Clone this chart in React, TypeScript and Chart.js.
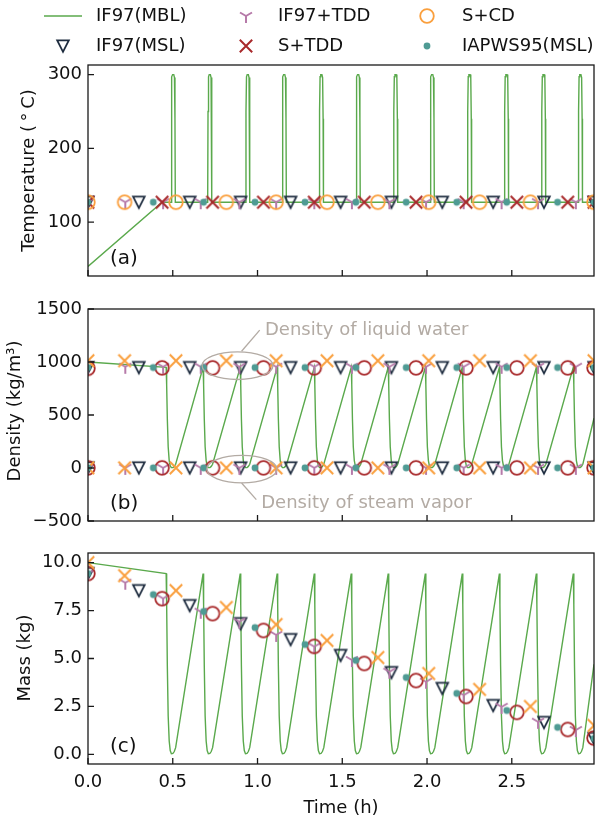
import React, { useEffect, useRef } from 'react';
import { Chart, registerables } from 'chart.js';
Chart.register(...registerables);

// ---------- axes ----------
const X_MAX = 2.985;
const xTicks = [0, 0.5, 1.0, 1.5, 2.0, 2.5];
const tempTicks = [100, 200, 300];
const densTicks = [-500, 0, 500, 1000, 1500];
const massTicks = [0, 2.5, 5, 7.5, 10];

// ---------- marker times (h) ----------
const tMSL = [0, 0.30, 0.60, 0.90, 1.195, 1.49, 1.79, 2.09, 2.39, 2.69, 2.985];
const tTDD = [0, 0.22, 0.443, 0.665, 0.893, 1.11, 1.335, 1.557, 1.778, 1.994, 2.216, 2.44, 2.655, 2.878];
const tSTDD = [0, 0.437, 0.735, 1.035, 1.335, 1.63, 1.935, 2.23, 2.53, 2.83, 2.985];
const tSCD = [0, 0.216, 0.519, 0.816, 1.11, 1.41, 1.71, 2.01, 2.31, 2.61, 2.985];
const tIAPWS = [0, 0.385, 0.682, 0.985, 1.28, 1.58, 1.877, 2.175, 2.47, 2.77, 2.985];

// ---------- temperature (°C) ----------
const tempMSL = [127, 127, 127, 127, 127, 127, 127, 127, 127, 127, 127];
const tempTDD = [127, 127, 127, 127, 127, 127, 127, 127, 127, 127, 127, 127, 127, 127];
const tempSTDD = [127, 127, 127, 127, 127, 127, 127, 127, 127, 127, 127];
const tempSCD = [127, 127, 127, 127, 127, 127, 127, 127, 127, 127, 127];
const tempIAPWS = [127, 127, 127, 127, 127, 127, 127, 127, 127, 127, 127];

// ---------- density (kg/m3): liquid and vapor ----------
const densLiqMSL = [948, 948, 948, 948, 948, 948, 948, 948, 948, 948, 948];
const densVapMSL = [1.5, 1.5, 1.5, 1.5, 1.5, 1.5, 1.5, 1.5, 1.5, 1.5, 1.5];
const densLiqTDD = [955, 955, 955, 955, 955, 955, 955, 955, 955, 955, 955, 955, 955, 955];
const densVapTDD = [1.5, 1.5, 1.5, 1.5, 1.5, 1.5, 1.5, 1.5, 1.5, 1.5, 1.5, 1.5, 1.5, 1.5];
const densLiqSTDD = [940, 945, 945, 945, 945, 945, 945, 945, 945, 945, 945];
const densVapSTDD = [1.5, 1.5, 1.5, 1.5, 1.5, 1.5, 1.5, 1.5, 1.5, 1.5, 1.5];
const densLiqSCD = [1012, 1012, 1012, 1012, 1012, 1012, 1012, 1012, 1012, 1012, 1012];
const densVapSCD = [1.5, 1.5, 1.5, 1.5, 1.5, 1.5, 1.5, 1.5, 1.5, 1.5, 1.5];
const densLiqIAPWS = [948, 948, 948, 948, 948, 948, 948, 948, 948, 948, 948];
const densVapIAPWS = [1.5, 1.5, 1.5, 1.5, 1.5, 1.5, 1.5, 1.5, 1.5, 1.5, 1.5];

// ---------- mass (kg) ----------
const massMSL = [9.43, 8.54, 7.76, 6.82, 5.99, 5.16, 4.27, 3.44, 2.55, 1.67, 0.83];
const massTDD = [9.43, 8.95, 8.13, 7.44, 6.92, 6.23, 5.62, 4.92, 4.31, 3.79, 3.09, 2.48, 1.70, 1.27];
const massSTDD = [9.43, 8.12, 7.34, 6.46, 5.63, 4.74, 3.85, 3.02, 2.19, 1.30, 0.85];
const massSCD = [10.0, 9.32, 8.54, 7.66, 6.77, 5.94, 5.05, 4.22, 3.39, 2.50, 1.51];
const massIAPWS = [9.43, 8.33, 7.45, 6.61, 5.73, 4.90, 4.01, 3.18, 2.29, 1.41, 0.83];

// ---------- IF97(MBL) line, read key points ----------
const mblStartT = 0;
const mblMassStart = 10.0;
const mblDensStart = 1000;
const mblTempStart = [40, 127];
const mblTempStartT = [0, 0.437];
const cyclePeakT = [0.461, 0.679, 0.898, 1.116, 1.335, 1.553, 1.771, 1.990, 2.208, 2.427, 2.645, 2.863];
const dropDt = [0, 0.003, 0.007, 0.012, 0.018, 0.024, 0.031, 0.040, 0.048, 0.056];
const massDropVal = [9.43, 7.8, 4.6, 2.0, 0.7, 0.2, 0.04, 0.05, 0.15, 0.35];
const densDropVal = [950, 786, 463, 201, 70, 20, 4, 5, 15, 35];
const mblMassEnd = 4.7;
const mblDensEnd = 470;
const spikeT = [0.490, 0.706, 0.930, 1.145, 1.364, 1.581, 1.802, 2.018, 2.238, 2.456, 2.675, 2.892];
const spikeDt = [0, 0.002, 0.005, 0.009, 0.016, 0.020, 0.023, 0.025];
const spikeVal = [127, 250, 297, 300, 300, 296, 240, 127];
const mblTempEnd = 127;

// ---------- styles ----------
const GREEN = '#5aa94c';
const NAVY = '#1e2c3f';
const PURPLE = '#b67aa9';
const RED = '#a8292b';
const ORANGE = '#fa9f3d';
const TEAL = '#4f9b94';
const ANNOT = '#b3aba4';
const INK = '#111111';
const FONT = '"DejaVu Sans", sans-serif';

type P = { x: number; y: number };
const pts = (xs: number[], ys: number[]): P[] => xs.map((x, i) => ({ x, y: ys[i] }));

function sawLine(startVal: number, dropVal: number[], endVal: number): P[] {
  const out: P[] = [{ x: mblStartT, y: startVal }];
  cyclePeakT.forEach((tp) => dropDt.forEach((dt, j) => out.push({ x: tp + dt, y: dropVal[j] })));
  out.push({ x: X_MAX, y: endVal });
  return out;
}
function tempLine(): P[] {
  const out: P[] = pts(mblTempStartT, mblTempStart);
  spikeT.forEach((ts) => spikeDt.forEach((dt, j) => out.push({ x: ts + dt, y: spikeVal[j] })));
  out.push({ x: X_MAX, y: mblTempEnd });
  return out;
}

function mk(draw: (c: CanvasRenderingContext2D) => void): HTMLCanvasElement {
  const cv = document.createElement('canvas');
  cv.width = 20;
  cv.height = 20;
  const c = cv.getContext('2d')!;
  c.translate(10, 10);
  draw(c);
  return cv;
}
function makeMarkers() {
  const tri = mk((c) => {
    c.strokeStyle = NAVY; c.lineWidth = 1.8; c.lineJoin = 'miter';
    c.beginPath(); c.moveTo(-5.8, -5.6); c.lineTo(5.8, -5.6); c.lineTo(0, 5.8); c.closePath(); c.stroke();
  });
  const yy = mk((c) => {
    c.strokeStyle = PURPLE; c.lineWidth = 2;
    c.beginPath();
    c.moveTo(0, 0); c.lineTo(0, 7);
    c.moveTo(0, 0); c.lineTo(-6.0, -3.5);
    c.moveTo(0, 0); c.lineTo(6.0, -3.5);
    c.stroke();
  });
  const cross = (col: string) => mk((c) => {
    c.strokeStyle = col; c.lineWidth = 2;
    c.beginPath(); c.moveTo(-6.2, -6.2); c.lineTo(6.2, 6.2); c.moveTo(-6.2, 6.2); c.lineTo(6.2, -6.2); c.stroke();
  });
  const circ = (col: string) => mk((c) => {
    c.strokeStyle = col; c.lineWidth = 1.8;
    c.beginPath(); c.arc(0, 0, 6.8, 0, Math.PI * 2); c.stroke();
  });
  const dot = mk((c) => {
    c.fillStyle = TEAL; c.beginPath(); c.arc(0, 0, 3.4, 0, Math.PI * 2); c.fill();
  });
  return { tri, yy, xRed: cross(RED), xOrange: cross(ORANGE), oRed: circ(RED), oOrange: circ(ORANGE), dot };
}

const mds = (data: P[], img: HTMLCanvasElement) => ({
  data, showLine: false, pointStyle: img, pointRadius: 7, pointHoverRadius: 7, borderWidth: 0, clip: 0,
});
const lds = (data: P[]) => ({
  data, showLine: true, borderColor: GREEN, borderWidth: 1.4, pointRadius: 0, pointHoverRadius: 0,
  tension: 0, clip: 0, fill: false,
});

function fmt(kind: string) {
  return (v: any) => {
    const n = Number(v);
    if (kind === 'fixed') return n.toFixed(1);
    if (n < 0) return '\u2212' + Math.abs(n);
    return String(n);
  };
}

function panelPlugin(opts: {
  label: string; yTitle: string; yTitleX: number; yTitleY: number; yTicks: number[];
  extra?: (chart: any) => void;
}) {
  return {
    id: 'panel' + opts.label,
    afterDraw(chart: any) {
      const { ctx, chartArea: a, scales } = chart;
      const xs = scales.x, ys = scales.y;
      ctx.save();
      ctx.strokeStyle = '#1a1a1a';
      ctx.lineWidth = 1.3;
      ctx.beginPath();
      for (const v of xTicks) {
        const px = xs.getPixelForValue(v);
        ctx.moveTo(px, a.bottom); ctx.lineTo(px, a.bottom - 6);
      }
      for (const v of opts.yTicks) {
        const py = ys.getPixelForValue(v);
        ctx.moveTo(a.left, py); ctx.lineTo(a.left + 6, py);
      }
      ctx.stroke();
      ctx.strokeRect(a.left, a.top, a.right - a.left, a.bottom - a.top);
      // panel label
      ctx.fillStyle = INK;
      ctx.font = '20px ' + FONT;
      ctx.textAlign = 'left';
      ctx.textBaseline = 'middle';
      ctx.fillText(opts.label, a.left + 22, a.bottom - 17.5);
      // y title
      ctx.font = '18px ' + FONT;
      ctx.save();
      ctx.translate(opts.yTitleX, opts.yTitleY);
      ctx.rotate(-Math.PI / 2);
      ctx.textAlign = 'center';
      ctx.textBaseline = 'middle';
      ctx.fillText(opts.yTitle, 0, 0);
      ctx.restore();
      if (opts.extra) opts.extra(chart);
      ctx.restore();
    },
  };
}

function baseOptions(padTop: number, padBottom: number, yMin: number, yMax: number, yTicks: number[], yKind: string, showX: boolean) {
  return {
    responsive: false,
    animation: false,
    devicePixelRatio: 1,
    events: [],
    layout: { padding: { top: padTop, bottom: padBottom, left: 0, right: 1 } },
    plugins: { legend: { display: false }, tooltip: { enabled: false } },
    scales: {
      x: {
        type: 'linear', min: 0, max: X_MAX, display: showX,
        afterBuildTicks: (s: any) => { s.ticks = xTicks.map((value) => ({ value })); },
        afterFit: (s: any) => { if (showX) s.height = 55; },
        ticks: { padding: 8, color: INK, font: { size: 18, family: FONT }, callback: fmt('fixed'), maxRotation: 0, autoSkip: false },
        grid: { display: false, drawTicks: false },
        border: { display: false },
      },
      y: {
        type: 'linear', min: yMin, max: yMax,
        afterBuildTicks: (s: any) => { s.ticks = yTicks.map((value) => ({ value })); },
        afterFit: (s: any) => { s.width = 88; },
        ticks: { padding: 6, color: INK, font: { size: 18, family: FONT }, callback: fmt(yKind), autoSkip: false },
        grid: { display: false, drawTicks: false },
        border: { display: false },
      },
    },
  };
}

export default function App() {
  const r1 = useRef<HTMLCanvasElement>(null);
  const r2 = useRef<HTMLCanvasElement>(null);
  const r3 = useRef<HTMLCanvasElement>(null);

  useEffect(() => {
    Chart.defaults.font.family = FONT;
    Chart.defaults.font.size = 18;
    Chart.defaults.color = INK;
    const m = makeMarkers();

    const legendDraw = (chart: any) => {
      const ctx = chart.ctx as CanvasRenderingContext2D;
      const rows = [16, 46];
      ctx.save();
      ctx.strokeStyle = GREEN; ctx.lineWidth = 1.5;
      ctx.beginPath(); ctx.moveTo(44, rows[0]); ctx.lineTo(82, rows[0]); ctx.stroke();
      const put = (img: HTMLCanvasElement, x: number, y: number) => ctx.drawImage(img, x - 10, y - 10);
      put(m.tri, 63, rows[1]);
      put(m.yy, 246, rows[0]);
      put(m.xRed, 246, rows[1]);
      put(m.oOrange, 427, rows[0]);
      put(m.dot, 427, rows[1]);
      ctx.fillStyle = INK;
      ctx.font = '18px ' + FONT;
      ctx.textAlign = 'left';
      ctx.textBaseline = 'middle';
      ctx.fillText('IF97(MBL)', 96, rows[0]);
      ctx.fillText('IF97(MSL)', 96, rows[1]);
      ctx.fillText('IF97+TDD', 278, rows[0]);
      ctx.fillText('S+TDD', 278, rows[1]);
      ctx.fillText('S+CD', 462, rows[0]);
      ctx.fillText('IAPWS95(MSL)', 462, rows[1]);
      ctx.restore();
    };

    const annotDraw = (chart: any) => {
      const ctx = chart.ctx as CanvasRenderingContext2D;
      const xs = chart.scales.x, ys = chart.scales.y;
      const X = (v: number) => xs.getPixelForValue(v);
      const Y = (v: number) => ys.getPixelForValue(v);
      ctx.save();
      ctx.strokeStyle = ANNOT; ctx.lineWidth = 1.3;
      // liquid ellipse
      ctx.beginPath();
      ctx.ellipse(X(0.882), Y(965), X(0.882 + 0.2088) - X(0.882), Y(965) - Y(965 + 130), 0, 0, Math.PI * 2);
      ctx.stroke();
      ctx.beginPath(); ctx.moveTo(X(0.906), Y(1101)); ctx.lineTo(X(1.013), Y(1300)); ctx.stroke();
      // vapor ellipse
      ctx.beginPath();
      ctx.ellipse(X(0.908), Y(-10), X(0.908 + 0.207) - X(0.908), Y(-10) - Y(-10 + 130), 0, 0, Math.PI * 2);
      ctx.stroke();
      ctx.beginPath(); ctx.moveTo(X(0.906), Y(-142)); ctx.lineTo(X(0.993), Y(-298)); ctx.stroke();
      ctx.fillStyle = ANNOT;
      ctx.font = '18px ' + FONT;
      ctx.textAlign = 'left';
      ctx.textBaseline = 'alphabetic';
      ctx.fillText('Density of liquid water', X(1.044), Y(1252));
      ctx.fillText('Density of steam vapor', X(1.022), Y(-381));
      ctx.restore();
    };

    const xTitleDraw = (chart: any) => {
      const ctx = chart.ctx as CanvasRenderingContext2D;
      const a = chart.chartArea;
      ctx.save();
      ctx.fillStyle = INK;
      ctx.font = '18px ' + FONT;
      ctx.textAlign = 'center';
      ctx.textBaseline = 'middle';
      ctx.fillText('Time (h)', (a.left + a.right) / 2, 808);
      ctx.restore();
    };

    const cA = new Chart(r1.current!, {
      type: 'line',
      data: {
        datasets: [
          mds(pts(tIAPWS, tempIAPWS), m.dot),
          mds(pts(tSCD, tempSCD), m.oOrange),
          mds(pts(tSTDD, tempSTDD), m.xRed),
          mds(pts(tTDD, tempTDD), m.yy),
          mds(pts(tMSL, tempMSL), m.tri),
          lds(tempLine()),
        ] as any,
      },
      options: baseOptions(65, 819 - 276, 27, 313, tempTicks, 'int', false) as any,
      plugins: [panelPlugin({ label: '(a)', yTitle: 'Temperature (\u2009\u00b0\u2009C)', yTitleX: 29, yTitleY: 170.5, yTicks: tempTicks, extra: legendDraw })],
    });

    const cB = new Chart(r2.current!, {
      type: 'line',
      data: {
        datasets: [
          mds(pts(tIAPWS, densLiqIAPWS), m.dot),
          mds(pts(tIAPWS, densVapIAPWS), m.dot),
          mds(pts(tSCD, densLiqSCD), m.xOrange),
          mds(pts(tSCD, densVapSCD), m.xOrange),
          mds(pts(tSTDD, densLiqSTDD), m.oRed),
          mds(pts(tSTDD, densVapSTDD), m.oRed),
          mds(pts(tTDD, densLiqTDD), m.yy),
          mds(pts(tTDD, densVapTDD), m.yy),
          mds(pts(tMSL, densLiqMSL), m.tri),
          mds(pts(tMSL, densVapMSL), m.tri),
          lds(sawLine(mblDensStart, densDropVal, mblDensEnd)),
        ] as any,
      },
      options: baseOptions(309, 819 - 521, -500, 1500, densTicks, 'int', false) as any,
      plugins: [panelPlugin({ label: '(b)', yTitle: 'Density (kg/m\u00b3)', yTitleX: 15, yTitleY: 411, yTicks: densTicks, extra: annotDraw })],
    });

    const cC = new Chart(r3.current!, {
      type: 'line',
      data: {
        datasets: [
          mds(pts(tIAPWS, massIAPWS), m.dot),
          mds(pts(tSCD, massSCD), m.xOrange),
          mds(pts(tSTDD, massSTDD), m.oRed),
          mds(pts(tTDD, massTDD), m.yy),
          mds(pts(tMSL, massMSL), m.tri),
          lds(sawLine(mblMassStart, massDropVal, mblMassEnd)),
        ] as any,
      },
      options: baseOptions(553, 0, -0.5, 10.5, massTicks, 'fixed', true) as any,
      plugins: [panelPlugin({ label: '(c)', yTitle: 'Mass (kg)', yTitleX: 25, yTitleY: 658, yTicks: massTicks, extra: xTitleDraw })],
    });

    return () => { cA.destroy(); cB.destroy(); cC.destroy(); };
  }, []);

  const cs: React.CSSProperties = { position: 'absolute', left: 0, top: 0 };
  return (
    <div style={{ position: 'absolute', left: 0, top: 0, width: 601, height: 819, background: '#fff', overflow: 'hidden' }}>
      <canvas ref={r1} width={601} height={819} style={cs} />
      <canvas ref={r2} width={601} height={819} style={cs} />
      <canvas ref={r3} width={601} height={819} style={cs} />
    </div>
  );
}
